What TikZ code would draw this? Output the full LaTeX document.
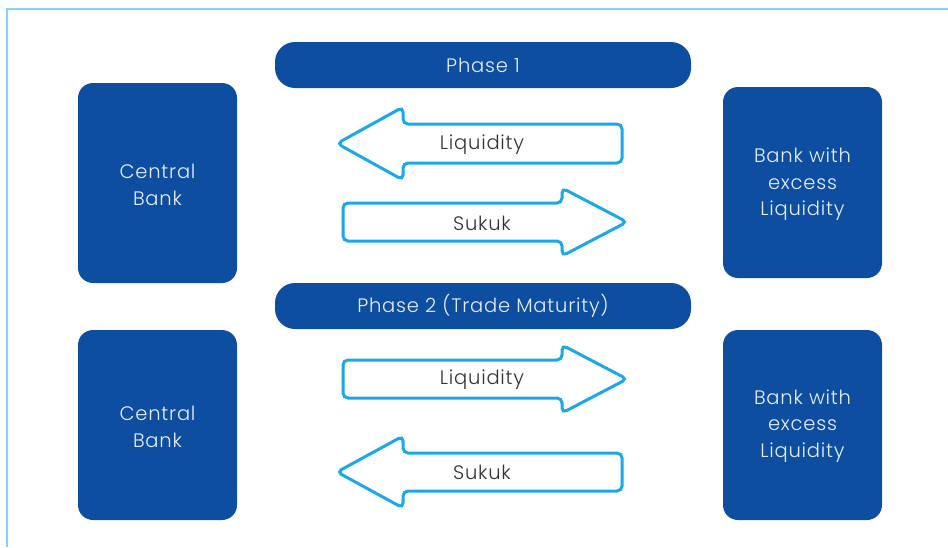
\documentclass[tikz,border=0pt]{standalone}
\usepackage{fontspec}
\setmainfont{Poppins}[UprightFont=* Light, LetterSpace=4]
\definecolor{navy}{HTML}{0D4EA0}
\definecolor{sky}{HTML}{1AA8E6}
\definecolor{framecol}{HTML}{80D4F5}
\definecolor{boxtext}{HTML}{E8EEF7}
\definecolor{arrowtext}{HTML}{333333}
\begin{document}
\begin{tikzpicture}[x=1pt,y=-1pt,
  bankbox/.style={fill=navy, rounded corners=15pt, minimum width=159pt, minimum height=200pt,
    text=boxtext, align=center, font=\fontsize{19.5}{26.5}\selectfont, inner sep=0pt},
  phasebar/.style={fill=navy, rounded corners=20pt, minimum width=416pt, minimum height=46pt,
    text=boxtext, font=\fontsize{19.5}{22}\selectfont, inner sep=0pt},
  flowarrow/.style={draw=sky, line width=3pt, rounded corners=5pt, fill=white},
  flowlabel/.style={text=arrowtext, font=\fontsize{19.5}{22}\selectfont, inner sep=0pt}]
\useasboundingbox (0,0) rectangle (948,547);
% frame lines along the top and left edge
\draw[framecol, line width=1.5pt] (7,547) -- (7,9) -- (948,9);

% phase headers
\node[phasebar] (p1) at (483,65) {Phase 1};
\node[phasebar] (p2) at (483,306) {Phase 2 (Trade Maturity)};

% banks (fill drawn separately so the text can sit slightly low)
\node[bankbox] (cb1) at (157.5,183) {};
\node[text=boxtext, align=center, font=\fontsize{19.5}{26.5}\selectfont] (cb1t) at (157.5,185) {Central\\Bank};
\node[bankbox, minimum height=191pt] (bx1) at (802.5,182.5) {};
\node[text=boxtext, align=center, font=\fontsize{19.5}{26.5}\selectfont] (bx1t) at (802.5,184.5) {Bank with\\excess\\Liquidity};
\node[bankbox, minimum height=190pt] (cb2) at (157.5,425) {};
\node[text=boxtext, align=center, font=\fontsize{19.5}{26.5}\selectfont] (cb2t) at (157.5,427) {Central\\Bank};
\node[bankbox, minimum height=190pt] (bx2) at (802.5,425) {};
\node[text=boxtext, align=center, font=\fontsize{19.5}{26.5}\selectfont] (bx2t) at (802.5,426) {Bank with\\excess\\Liquidity};

% phase 1 flows
\draw[flowarrow] (622,124) -- (403,124) -- (403,107) -- (337,143.5) -- (403,180) -- (403,163) -- (622,163) -- cycle;
\node[flowlabel] (liq1) at (482,145) {Liquidity};
\draw[flowarrow] (343,203) -- (562,203) -- (562,188) -- (627,222) -- (562,256) -- (562,241) -- (343,241) -- cycle;
\node[flowlabel] (suk1) at (482,223) {Sukuk};

% phase 2 flows
\draw[flowarrow] (343,360) -- (562,360) -- (562,345) -- (627,379) -- (562,413) -- (562,398) -- (343,398) -- cycle;
\node[flowlabel] (liq2) at (482,380) {Liquidity};
\draw[flowarrow] (622,453) -- (403,453) -- (403,436) -- (337,472) -- (403,508) -- (403,491) -- (622,491) -- cycle;
\node[flowlabel] (suk2) at (482,472.5) {Sukuk};
\end{tikzpicture}
\end{document}
